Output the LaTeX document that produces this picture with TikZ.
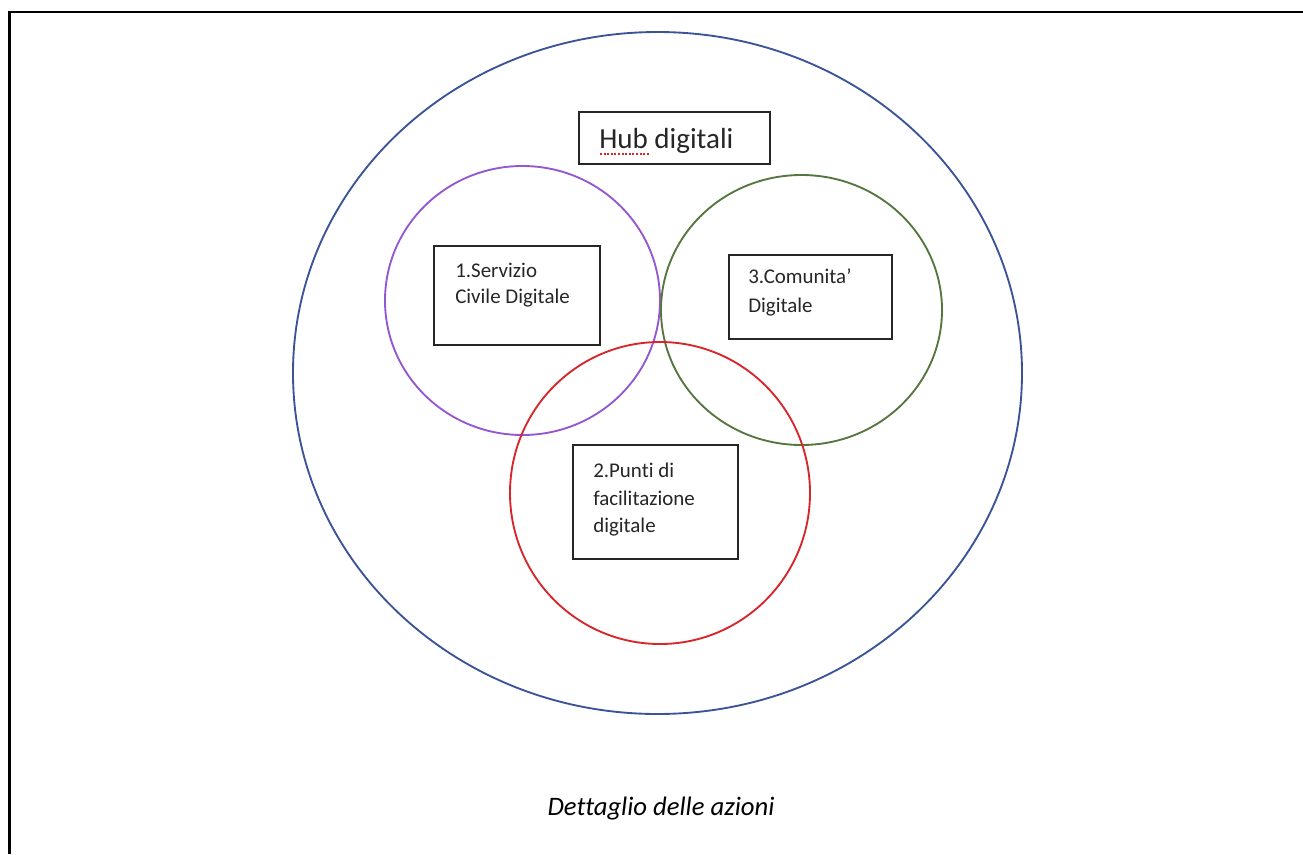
\documentclass[tikz,border=0pt]{standalone}
\usepackage{fontspec}
\setmainfont{Carlito}[Ligatures=NoCommon]
\begin{document}
\begin{tikzpicture}[x=0.75pt,y=-0.75pt,
  ring/.style={draw, line width=1.4pt},
  labelbox/.style={draw=black!85, line width=1.1pt, rectangle, inner sep=0pt},
  boxtext/.style={anchor=base west, inner sep=0pt, font=\fontsize{15.7}{18}\selectfont, text=black!85},
  rule/.style={line width=2.2pt, line cap=butt},
  thinrule/.style={line width=0.9pt}]
\useasboundingbox (0,0) rectangle (1303,854);
\definecolor{outerblue}{HTML}{3B5498}
\definecolor{ringpurple}{HTML}{9457CF}
\definecolor{ringgreen}{HTML}{55773F}
\definecolor{ringred}{HTML}{D7262B}
% page frame lines
\coordinate (tl) at (8,12);
\coordinate (tm1) at (256,12);
\coordinate (tm2) at (1066,12);
\coordinate (tr) at (1303,12);
\coordinate (bl) at (9.5,854);
\draw[thinrule] (tm1) -- (tm2);
\draw[rule] (tl) -- (tm1);
\draw[rule] (tm2) -- (tr);
\draw[line width=2.6pt] (9.5,11) -- (bl);
% circles
\draw[ring, draw=outerblue] (657.5,373) ellipse [x radius=364.5, y radius=341];
\draw[ring, draw=ringpurple] (522.5,300.5) circle [x radius=137.5, y radius=134.5];
\draw[ring, draw=ringgreen] (801.5,310) circle [x radius=140.5, y radius=135];
\draw[ring, draw=ringred] (660,493) circle [x radius=150, y radius=151];
% hub box
\node[labelbox, minimum width=191*0.75pt, minimum height=52*0.75pt] (hub) at (674.5,138) {};
\node[anchor=base west, inner sep=0pt, font=\fontsize{21.8}{26}\selectfont, text=black!85] (hubt) at (599,148) {Hub digitali};
\draw[ringred, line width=0.8pt, dash pattern=on 1.5pt off 1.2pt] (600,154) -- (650,154);
% box 1
\node[labelbox, minimum width=166*0.75pt, minimum height=99*0.75pt, fill=white] (b1) at (517,295.5) {};
\node[boxtext] (b1a) at (455,277) {1.Servizio};
\node[boxtext] (b1b) at (455,303) {Civile Digitale};
% box 3
\node[labelbox, minimum width=163*0.75pt, minimum height=84*0.75pt, fill=white] (b3) at (810.5,297) {};
\node[boxtext] (b3a) at (748,283) {3.Comunita'};
\node[boxtext] (b3b) at (748,312) {Digitale};
% box 2
\node[labelbox, minimum width=165*0.75pt, minimum height=114*0.75pt, fill=white] (b2) at (655.5,502) {};
\node[boxtext] (b2a) at (593,477) {2.Punti di};
\node[boxtext] (b2b) at (593,505) {facilitazione};
\node[boxtext] (b2c) at (593,532) {digitale};
% caption
\node[anchor=base, inner sep=0pt, font=\fontsize{20}{24}\selectfont\itshape] (cap) at (661,815) {Dettaglio delle azioni};
\end{tikzpicture}
\end{document}
